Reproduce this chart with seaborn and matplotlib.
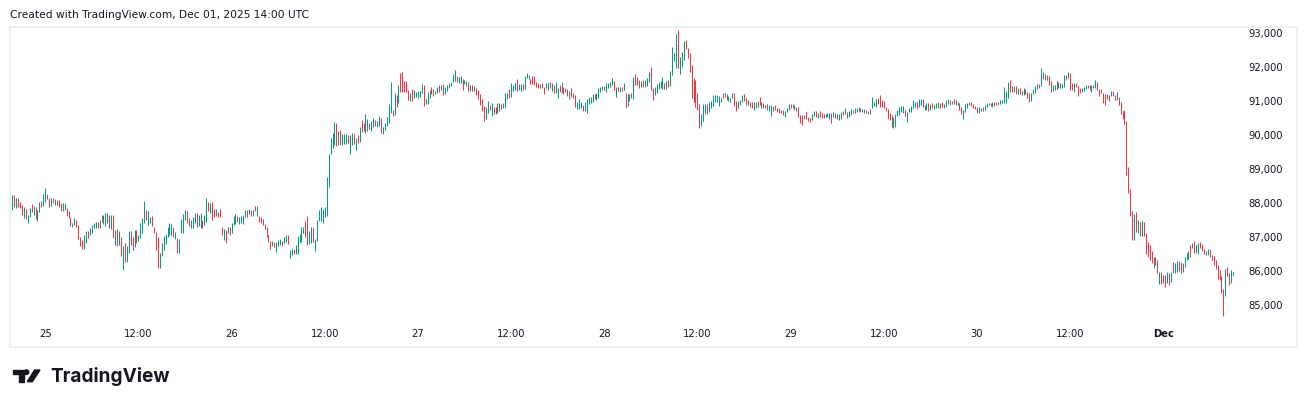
import numpy as np
import pandas as pd
import matplotlib
matplotlib.use("Agg")
import matplotlib.pyplot as plt
import matplotlib.patches as mpatches
import seaborn as sns

# 15 minute bars, New York time, from Nov 24 19:30 to Dec 01 09:00
start = "2025-11-24 19:30"

highs_a = [88030, 88240, 88240, 88150, 88150, 88050, 87950, 87880, 87820, 87660,
           87850, 87980, 87920, 87880, 87800, 88050, 88080, 88270, 88440, 88270,
           88150, 88150, 88150, 88120, 88100, 88100, 88000, 88000, 88000, 87850,
           87760, 87590, 87430, 87560, 87510, 87360, 87020, 86920, 87070, 87190,
           87190, 87260, 87360, 87430, 87460, 87460, 87510, 87660, 87660, 87710,
           87710, 87660, 87660, 87660, 87220, 87240, 87190, 87020, 86730, 86820,
           86730, 87200, 87190, 87020, 87220, 87220, 87070, 87410, 87560, 88070,
           87800, 87760, 87610, 87630, 87290, 87170, 87020, 86550, 86840, 87040,
           87100, 87290, 87410, 87390, 87310, 87170, 86970, 86940, 87530, 87680,
           87800, 87770, 87560, 87510, 87590, 87710, 87710, 87650, 87710, 87510,
           87660, 88150, 88030, 88000, 88050, 87830, 87830, 87740, 87830, 87310,
           87240, 87220, 87290, 87310, 87410, 87630, 87690, 87630, 87610, 87630,
           87660, 87800, 87800, 87820, 87790, 87800, 87920, 87920, 87630, 87610,
           87530, 87390, 87310, 87070, 86890, 86900, 86870, 86870, 86920, 86940,
           86900, 87020, 87070, 87070]
lows_a = [87800, 87800, 87900, 87850, 87900, 87850, 87660, 87560, 87530, 87410,
          87610, 87730, 87660, 87530, 87490, 87730, 87880, 87920, 88050, 88120,
          87880, 87920, 88000, 87960, 87950, 87880, 87780, 87760, 87800, 87640,
          87560, 87330, 87310, 87360, 87310, 86950, 86750, 86650, 86650, 86820,
          86970, 87070, 87120, 87260, 87260, 87260, 87260, 87460, 87390, 87330,
          87410, 87260, 87240, 86970, 86780, 86750, 86780, 86450, 86040, 86260,
          86260, 86530, 86780, 86630, 86710, 86820, 86900, 86970, 87140, 87410,
          87510, 87360, 87410, 87330, 87120, 86630, 86110, 86090, 86450, 86630,
          86800, 87020, 87070, 87070, 87020, 86940, 86530, 86550, 87120, 87120,
          87510, 87430, 87330, 87260, 87260, 87410, 87310, 87330, 87260, 87260,
          87360, 87460, 87760, 87710, 87510, 87610, 87630, 87590, 87610, 87070,
          86920, 86840, 87120, 87070, 87120, 87360, 87390, 87460, 87390, 87430,
          87380, 87610, 87610, 87680, 87640, 87630, 87760, 87630, 87460, 87410,
          87360, 87240, 87020, 86870, 86650, 86730, 86710, 86580, 86730, 86780,
          86730, 86820, 86870, 86800]
dirs_a = ("dududddudu ududuuduud dududdduud dduudddduu duuuuduudu "
          "ududududud uudduduuuu duudddduuu uuuududuuu udduuuduud "
          "uududduddd ududuuuduu uududududd ddddduduuu duud")

highs_b = [86630, 86660, 86650, 86780, 87040, 87090, 87300, 87310, 87480, 87630,
           87190, 87290, 87290, 86950, 87510, 87800, 87900, 87820, 87900, 88760,
           89450, 89930, 90060, 90400, 90350, 90130, 90160, 90030, 90030, 90040,
           90020, 90010, 90080, 90040, 89910, 90010, 90240, 90450, 90350, 90620,
           90480, 90350, 90430, 90520, 90450, 90420, 90570, 90520, 90250, 90370,
           90550, 90920, 91580, 90750, 91240, 91190, 91480, 91840, 91870, 91600,
           91600, 91330, 91240, 91350, 91330, 91280, 91300, 91300, 91510, 91480,
           91070, 91280, 91330, 91410, 91350, 91300, 91430, 91480, 91480, 91500,
           91410, 91480, 91530, 91580, 91790, 91920, 91750, 91700, 91750, 91650,
           91630, 91610, 91560, 91480, 91480, 91460, 91400, 91330, 91200, 91070,
           90870, 90840, 91010, 90890, 90960, 90840, 90840, 90940, 90960, 90930,
           90940, 91240, 91250, 91360, 91530, 91480, 91530, 91660, 91510, 91500,
           91500, 91750, 91820, 91770, 91660, 91730, 91730, 91580, 91530, 91500,
           91530, 91430, 91530, 91550, 91580, 91530, 91480, 91580, 91400, 91480,
           91580, 91410, 91380, 91350, 91300, 91380, 91240, 91190, 90990, 91070,
           90990, 90890, 90990, 91060, 91140, 91120, 91210, 91210, 91250, 91380,
           91430, 91450, 91450, 91550, 91530, 91580, 91680, 91600, 91430, 91410,
           91430, 91430, 91530, 91240, 91220, 91220, 91240, 91700, 91800, 91700,
           91630]
lows_b = [86380, 86480, 86500, 86500, 86510, 86870, 86870, 87140, 87000, 86760,
          86800, 86820, 86860, 86610, 86900, 87490, 87490, 87430, 87610, 87630,
          88490, 89440, 89620, 89700, 89690, 89700, 89700, 89700, 89740, 89750,
          89760, 89450, 89700, 89740, 89570, 89770, 89790, 90110, 90130, 90080,
          90140, 90190, 90140, 90250, 90280, 90250, 90270, 90060, 90040, 90160,
          90280, 90350, 90650, 90570, 90600, 90840, 90940, 91280, 91280, 91280,
          91280, 91040, 91020, 91020, 91090, 91120, 91090, 91120, 91240, 90870,
          90910, 90920, 91110, 91200, 91160, 91220, 91250, 91280, 91330, 91190,
          91220, 91300, 91380, 91450, 91560, 91600, 91580, 91550, 91530, 91330,
          91500, 91450, 91300, 91300, 91300, 91300, 91190, 91070, 90890, 90710,
          90430, 90470, 90670, 90740, 90570, 90620, 90620, 90650, 90710, 90760,
          90810, 90790, 91060, 91090, 91140, 91310, 91330, 91300, 91330, 91300,
          91330, 91350, 91680, 91650, 91510, 91500, 91480, 91430, 91380, 91380,
          91380, 91200, 91400, 91330, 91380, 91300, 91240, 91240, 91110, 91260,
          91240, 91200, 91260, 91160, 91060, 91140, 91090, 90840, 90770, 90770,
          90790, 90710, 90700, 90650, 90920, 90960, 90990, 91060, 91040, 91090,
          91280, 91330, 91330, 91280, 91400, 91430, 91480, 91330, 91140, 91300,
          91280, 91300, 91330, 90810, 90870, 91010, 91090, 91060, 91480, 91480,
          91400]
dirs_b = ("uuduuuuudd uuduuuuuuu uuuududuuu duudududdu uduuduuduu "
          "uuudududdd dduduuuuud uuudduudud uuuuuuduud uudududddd "
          "duudududud uuuduuuduu duuudddddu dduududuud uddduddduu "
          "uduuuuuduu uuduuuudud ududuududd d")

highs_c = [91600, 91630, 91630, 91680, 91870, 92000, 91380, 91430, 91500, 91580,
           91600, 91700, 91550, 91600, 91630, 91890, 92590, 92410, 92970, 93100,
           92310, 92440, 92770, 92800, 92560, 92410, 92070, 91680, 91630, 91240,
           90910, 90620, 90910, 90910, 90910, 90970, 91010, 91190, 91190, 91190,
           91170, 91090, 91240, 91240, 91200, 91160, 91110, 91240, 91240, 91010,
           91010, 91040, 91190, 91200, 91090, 91040, 90990, 90970, 90990, 90990,
           91010, 91140, 90990, 90940, 90890, 90910, 90880, 90890, 90860, 90890,
           90810, 90790, 90740, 90740, 90720, 90810, 90910, 90910, 90910, 90890,
           90840, 90840, 90600, 90600, 90600, 90680, 90550, 90520, 90620, 90700,
           90720, 90650, 90700, 90650, 90620, 90640, 90650, 90650, 90650, 90680,
           90650, 90620, 90620, 90680, 90720, 90790, 90680, 90720, 90770, 90740,
           90810, 90810, 90840, 90790, 90770, 90760, 90740, 90720, 90760, 91140,
           90990, 91060, 91110, 91190, 91040, 91010, 90840, 90770, 90650, 90600,
           90550, 90620, 90740, 90840, 90870, 90870, 90740, 90680, 90790, 90870,
           91040, 90990, 90990, 91070, 91070, 91070, 90890, 90940, 90940, 90910,
           90940, 90890, 90940, 90990, 90960, 90970, 90910, 91040, 91070, 91040,
           91010, 91070, 91040, 90990, 90940, 90840, 90740, 90910, 90940, 90990]
lows_c = [91430, 91430, 91430, 91460, 91580, 91330, 91040, 91190, 91240, 91360,
          91380, 91350, 91350, 91350, 91430, 91450, 91770, 92190, 91990, 91970,
          91800, 92020, 92210, 92530, 92280, 91870, 91110, 90990, 90840, 90750,
          90210, 90270, 90420, 90620, 90620, 90680, 90810, 90870, 90970, 90970,
          90870, 90970, 91090, 91140, 91040, 91020, 90970, 91090, 90870, 90720,
          90790, 90890, 90990, 91010, 90890, 90890, 90840, 90790, 90740, 90810,
          90840, 90890, 90790, 90790, 90790, 90740, 90720, 90580, 90700, 90740,
          90680, 90650, 90650, 90600, 90550, 90680, 90740, 90790, 90790, 90740,
          90720, 90550, 90350, 90300, 90480, 90480, 90420, 90380, 90450, 90580,
          90550, 90520, 90550, 90520, 90520, 90530, 90550, 90480, 90350, 90550,
          90520, 90480, 90450, 90480, 90600, 90620, 90520, 90550, 90600, 90650,
          90650, 90680, 90700, 90680, 90680, 90660, 90650, 90620, 90620, 90790,
          90860, 90840, 90910, 90840, 90840, 90790, 90720, 90480, 90450, 90230,
          90210, 90250, 90580, 90600, 90680, 90650, 90580, 90400, 90680, 90680,
          90790, 90820, 90770, 90840, 90890, 90840, 90740, 90740, 90720, 90740,
          90790, 90770, 90790, 90790, 90810, 90840, 90810, 90840, 90910, 90890,
          90910, 90910, 90890, 90890, 90740, 90620, 90480, 90680, 90810, 90890]
dirs_c = ("uduuudduuu uududuuuud uuuddddddd duuuduuuuu uududuuudd "
          "uuuddudduu ddududuuud dddduuudud uddduddduu duddduuudu "
          "uduududuud uuududuudu uudddddddd uuuuuuduuu uuduuduudu "
          "duuudduuud uduudduuuu")

highs_d = [90970, 90920, 90860, 90840, 90820, 90810, 90840, 90890, 90960, 90960,
           90960, 90990, 90970, 90990, 90990, 91040, 91040, 91410, 91310, 91560,
           91630, 91460, 91450, 91450, 91400, 91400, 91310, 91380, 91350, 91280,
           91240, 91250, 91350, 91450, 91510, 91510, 91990, 91870, 91790, 91770,
           91730, 91610, 91480, 91480, 91610, 91560, 91530, 91510, 91770, 91770,
           91870, 91820, 91530, 91530, 91530, 91460, 91380, 91400, 91430, 91480,
           91480, 91480, 91480, 91480, 91630, 91580, 91350, 91350, 91240, 91220,
           91210, 91190, 91300, 91310, 91190, 91260, 91140, 90990, 90720, 90750,
           90420, 89060, 88420, 87760, 87690, 87730, 87510, 87460, 87480, 87440,
           87140, 86850, 86780, 86610, 86420, 86430, 86340, 85990, 85970, 85890,
           85890, 85990, 85960, 85970, 86260, 86240, 86290, 86310, 86260, 86240,
           86420, 86530, 86600, 86770, 86830, 86890, 86780, 86830, 86860, 86800,
           86670, 86610, 86650, 86660, 86490, 86460, 86340, 86200, 86040, 85850,
           85470, 86070, 86120, 85960, 86040, 85990]
lows_d = [90860, 90790, 90770, 90670, 90670, 90700, 90720, 90730, 90840, 90890,
          90860, 90840, 90860, 90890, 90890, 90910, 90940, 90960, 90960, 91110,
          91280, 91280, 91280, 91210, 91210, 91210, 91190, 91190, 91210, 91110,
          90990, 91020, 91210, 91240, 91350, 91380, 91450, 91650, 91630, 91630,
          91480, 91260, 91300, 91330, 91350, 91380, 91400, 91400, 91430, 91630,
          91680, 91330, 91330, 91280, 91430, 91170, 91240, 91260, 91300, 91350,
          91380, 91330, 91260, 91380, 91380, 91330, 91160, 91250, 90960, 90890,
          91060, 91020, 91160, 91160, 91040, 91040, 90890, 90630, 90470, 90330,
          88830, 88300, 87630, 86920, 86920, 87170, 87120, 87040, 87040, 87040,
          86510, 86430, 86340, 86240, 86110, 86190, 85940, 85630, 85630, 85670,
          85550, 85670, 85600, 85700, 85940, 85940, 85970, 86020, 85940, 85970,
          86120, 86340, 86350, 86430, 86680, 86530, 86530, 86500, 86680, 86610,
          86510, 86480, 86480, 86430, 86340, 86190, 86080, 85770, 85750, 85360,
          84690, 85260, 85850, 85600, 85650, 85890]
dirs_d = ("dddduuduuu dudduuuuuu ddududuudd duuuududud dduuuduuud "
          "udduddduuu duduuddddd dduddudddd ddddududud dddduddudd "
          "dududuudud uuududuudd duuddddddd dudduu")

price_ticks = [85000, 86000, 87000, 88000, 89000, 90000, 91000, 92000, 93000]

highs = highs_a + highs_b + highs_c + highs_d
lows = lows_a + lows_b + lows_c + lows_d
dirs = "".join((dirs_a + dirs_b + dirs_c + dirs_d).split())

times = pd.date_range(start, periods=len(highs), freq="15min")
bars = pd.DataFrame({
    "bar": np.arange(len(highs)),
    "high": highs,
    "low": lows,
    "direction": ["up" if c == "u" else "down" for c in dirs],
})
long = bars.melt(id_vars=["bar", "direction"], value_vars=["low", "high"],
                 value_name="price")

sns.set_theme(style="white")
plt.rcParams["font.family"] = ["DejaVu Sans"]

W, H = 1306, 407
fig = plt.figure(figsize=(W / 100, H / 100), dpi=100)
ax = fig.add_axes([10 / W, (H - 347) / H, 1287 / W, 320 / H])

sns.lineplot(
    data=long, x="bar", y="price", hue="direction", units="bar",
    estimator=None, palette={"up": "#089981", "down": "#F23645"},
    linewidth=0.75, legend=False, ax=ax, solid_capstyle="butt",
)

ax.set_xlim(-0.15, 662.9)
ax.set_ylim(83774, 93185)
ax.set_xlabel("")
ax.set_ylabel("")

# x ticks every 12 hours
tick_pos = [i for i, t in enumerate(times) if t.minute == 0 and t.hour in (0, 12)]
tick_lab = []
for i in tick_pos:
    t = times[i]
    if t.hour == 12:
        tick_lab.append("12:00")
    elif t.day == 1:
        tick_lab.append(t.strftime("%b"))
    else:
        tick_lab.append(str(t.day))
ax.set_xticks(tick_pos, tick_lab)
for lab in ax.get_xticklabels():
    if lab.get_text() == "Dec":
        lab.set_fontweight("bold")

ax.yaxis.tick_right()
ax.set_yticks(price_ticks, [f"{v:,}" for v in price_ticks])
ax.tick_params(axis="x", length=0, pad=-13.3, labelsize=7.2, colors="#131722")
ax.tick_params(axis="y", length=0, pad=-35, labelsize=7.2, colors="#131722")

for s in ax.spines.values():
    s.set_color("#eeeff1")
    s.set_linewidth(1.5)

fig.text(10 / W, 1 - 18.3 / H, "Created with TradingView.com, Dec 01, 2025 14:00 UTC",
         fontsize=7.7, color="#131722", va="baseline", ha="left")


def px(x, y):
    return (x / W, 1 - y / H)


# TradingView logo
logo = "#131722"
fig.patches.append(mpatches.Polygon(
    [px(12.7, 370), px(24, 370), px(24, 381.7), px(19.3, 381.7), px(19.3, 374), px(12.7, 374)],
    closed=True, transform=fig.transFigure, color=logo))
fig.patches.append(mpatches.Ellipse(
    px(26.4, 372.2), 4.6 / W, 4.6 / H, transform=fig.transFigure, color=logo))
fig.patches.append(mpatches.Polygon(
    [px(27.3, 381.7), px(32.3, 381.7), px(40, 370), px(34.6, 370)],
    closed=True, transform=fig.transFigure, color=logo))
fig.text(50.5 / W, 1 - 381.7 / H, "TradingView", fontsize=13.7, fontweight="bold",
         family=["Inter", "DejaVu Sans"], color=logo, va="baseline", ha="left")

fig.savefig("out.png", dpi=100)
